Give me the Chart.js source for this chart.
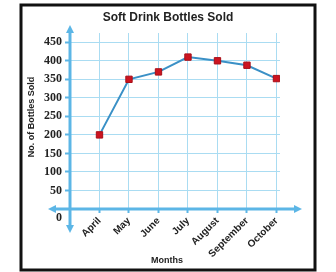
<!DOCTYPE html>
<html>
<head>
<meta charset="utf-8">
<script src="https://cdn.jsdelivr.net/npm/chart.js@4"></script>
<style>
  html, body { margin:0; padding:0; background:#fff; }
  #wrap { width:336px; height:272px; }
</style>
</head>
<body>
<div id="wrap"><canvas id="c" width="336" height="272"></canvas></div>
<script>
/* ======= Data ======= */
const months = ['April', 'May', 'June', 'July', 'August', 'September', 'October'];
const bottlesSold = [200, 350, 370, 410, 400, 388, 352];
const yTicks = [0, 50, 100, 150, 200, 250, 300, 350, 400, 450];

const chartTitle = 'Soft Drink Bottles Sold';
const xTitle = 'Months';
const yTitle = 'No. of Bottles Sold';

const GRID = '#aadcf2';
const AXIS = '#5cb6e6';
const SANS = 'Liberation Sans, Arial';

/* ======= Axes with arrows + frame + titles ======= */
const axesPlugin = {
  id: 'axesArrows',
  afterDraw(chart) {
    const ctx = chart.ctx;
    const xs = chart.scales.x, ys = chart.scales.y;
    const x0 = xs.getPixelForValue(0), y0 = ys.getPixelForValue(0);
    ctx.save();
    ctx.strokeStyle = AXIS; ctx.fillStyle = AXIS; ctx.lineWidth = 3;
    // x axis
    const xl = x0 - 22, xr = xs.right + 22;
    ctx.beginPath(); ctx.moveTo(xl + 4, y0); ctx.lineTo(xr - 4, y0); ctx.stroke();
    // y axis
    const yt = ys.top - 8, yb = y0 + 24;
    ctx.beginPath(); ctx.moveTo(x0, yt + 4); ctx.lineTo(x0, yb - 4); ctx.stroke();
    const tri = (pts) => { ctx.beginPath(); ctx.moveTo(pts[0], pts[1]); ctx.lineTo(pts[2], pts[3]); ctx.lineTo(pts[4], pts[5]); ctx.closePath(); ctx.fill(); };
    tri([xl, y0, xl + 8, y0 - 4, xl + 8, y0 + 4]);
    tri([xr, y0, xr - 8, y0 - 4, xr - 8, y0 + 4]);
    tri([x0, yt, x0 - 4, yt + 8, x0 + 4, yt + 8]);
    tri([x0, yb, x0 - 4, yb - 8, x0 + 4, yb - 8]);

    // "0" label sits below-left of the origin
    ctx.fillStyle = '#222';
    ctx.font = 'bold 12px Liberation Serif, Times New Roman';
    ctx.textAlign = 'right'; ctx.textBaseline = 'middle';
    ctx.fillText(String(yTicks[0]), x0 - 8, y0 + 9);

    // titles
    ctx.textAlign = 'center';
    ctx.font = 'bold 12px ' + SANS;
    ctx.fillText(chartTitle, 168, 18);
    ctx.font = 'bold 9px ' + SANS;
    ctx.fillText(xTitle, 167, 261);
    ctx.save();
    ctx.translate(32, 117);
    ctx.rotate(-Math.PI / 2);
    ctx.fillText(yTitle, 0, 0);
    ctx.restore();

    // frame
    ctx.strokeStyle = '#111'; ctx.lineWidth = 3;
    ctx.strokeRect(21, 5, 294, 265);
    ctx.restore();
  }
};

new Chart(document.getElementById('c'), {
  type: 'line',
  data: {
    datasets: [{
      data: bottlesSold.map((v, i) => ({ x: i + 1, y: v })),
      borderColor: '#3a90c6',
      borderWidth: 2,
      pointStyle: 'rect',
      pointRadius: 4.5,
      pointBackgroundColor: '#cc1420',
      pointBorderColor: '#a80f18',
      pointBorderWidth: 1,
      tension: 0
    }]
  },
  options: {
    responsive: false,
    animation: false,
    layout: { padding: { left: 22, right: 56, top: 33, bottom: 4 } },
    plugins: {
      legend: { display: false },
      tooltip: { enabled: false },
      title: { display: false }
    },
    scales: {
      x: {
        type: 'linear',
        min: 0, max: 7.12,
        afterBuildTicks(s) { s.ticks = months.map((m, i) => ({ value: i + 1 })); },
        afterFit(s) { s.height = 59; },
        border: { display: false },
        grid: { color: GRID, lineWidth: 1, tickLength: 4, tickColor: AXIS, tickWidth: 2 },
        ticks: {
          autoSkip: false,
          maxRotation: 45, minRotation: 45,
          padding: 2,
          color: '#222',
          font: { family: SANS, size: 10, weight: 'bold' },
          callback: (v) => months[v - 1]
        }
      },
      y: {
        min: 0, max: 475,
        afterBuildTicks(s) { s.ticks = yTicks.filter(v => v > 0).map(v => ({ value: v })); },
        afterFit(s) { s.width = 48; },
        border: { display: false },
        grid: { color: GRID, lineWidth: 1, tickLength: 5, tickColor: AXIS, tickWidth: 2 },
        ticks: {
          padding: 3,
          color: '#222',
          font: { family: 'Liberation Serif, Times New Roman', size: 12, weight: 'bold' }
        }
      }
    }
  },
  plugins: [axesPlugin]
});
</script>
</body>
</html>
